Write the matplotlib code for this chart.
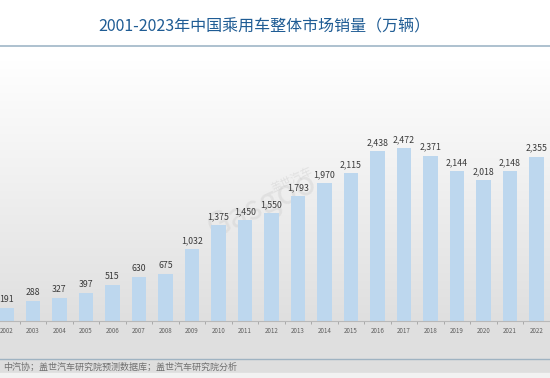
import numpy as np
import matplotlib.pyplot as plt

plt.rcParams['font.family'] = ['Noto Sans CJK SC', 'DejaVu Sans']

# 数据（万辆），图中可见 2002-2022
years = ['2002', '2003', '2004', '2005', '2006', '2007', '2008', '2009', '2010', '2011', '2012',
         '2013', '2014', '2015', '2016', '2017', '2018', '2019', '2020', '2021', '2022']
sales = [191, 288, 327, 397, 515, 630, 675, 1032, 1375, 1450, 1550,
         1793, 1970, 2115, 2438, 2472, 2371, 2144, 2018, 2148, 2355]

W, H = 550, 378
fig = plt.figure(figsize=(W / 100, H / 100), dpi=100)

# 背景渐变（上白下灰）
bg = fig.add_axes([0, 0, 1, 1])
rows = np.arange(H)
t = np.clip((rows - 60) / (320 - 60), 0, 1)
shade = 1 - t * (1 - 0.875)
img = np.repeat(shade[:, None, None], 3, axis=2)
img = np.repeat(img, 2, axis=1)
bg.imshow(img, aspect='auto', extent=[0, W, H, 0])
bg.set_xlim(0, W)
bg.set_ylim(H, 0)
bg.axis('off')

# 标题及分隔线
bg.text(264, 26, '2001-2023年中国乘用车整体市场销量（万辆）', ha='center', va='center',
        fontsize=11.5, color='#1f5c94')
bg.plot([0, W], [46, 46], color='#a7bccb', lw=1.3)
bg.plot([0, W], [359, 359], color='#9fb3c2', lw=1)
bg.fill_between([0, W], 360, 373, color='#dedede')
bg.fill_between([0, W], 373, H, color='#f2f2f2')
bg.text(3, 367, '中汽协；盖世汽车研究院预测数据库；盖世汽车研究院分析', ha='left', va='center',
        fontsize=6.5, color='#707070')

# 水印
bg.text(262, 205, 'Gasgoo', fontsize=24, color='#c8c8c8', alpha=0.35, rotation=25,
        ha='center', va='center', fontstyle='italic')
bg.text(292, 180, '盖世汽车', fontsize=8, color='#c8c8c8', alpha=0.4, rotation=25,
        ha='center', va='center')

# 柱状图
ax = fig.add_axes([0, 1 - 321 / H, 1, (321 - 50) / H])
ax.patch.set_alpha(0)
x = np.arange(len(years))
ax.bar(x, sales, width=0.55, color='#bdd7ee', zorder=2)
for xi, v in zip(x, sales):
    ax.text(xi, v + 55, f'{v:,}', ha='center', va='bottom', fontsize=6.3, color='#3a3a3a')

step = 26.5
ax.set_xlim(-6.5 / step, -6.5 / step + W / step)
ax.set_ylim(0, 271 / 0.0698)
ax.set_yticks([])
ax.set_xticks(x)
ax.set_xticklabels(years, fontsize=4.5, color='#606060')
ax.set_xticks(x[:-1] + 0.5, minor=True)
ax.tick_params(axis='x', which='major', length=0, pad=4)
ax.tick_params(axis='x', which='minor', length=2, color='#a0a0a0')
for s in ['top', 'right', 'left']:
    ax.spines[s].set_visible(False)
ax.spines['bottom'].set_color('#b8b8b8')
ax.spines['bottom'].set_linewidth(0.8)

fig.savefig('out.png', dpi=100)
